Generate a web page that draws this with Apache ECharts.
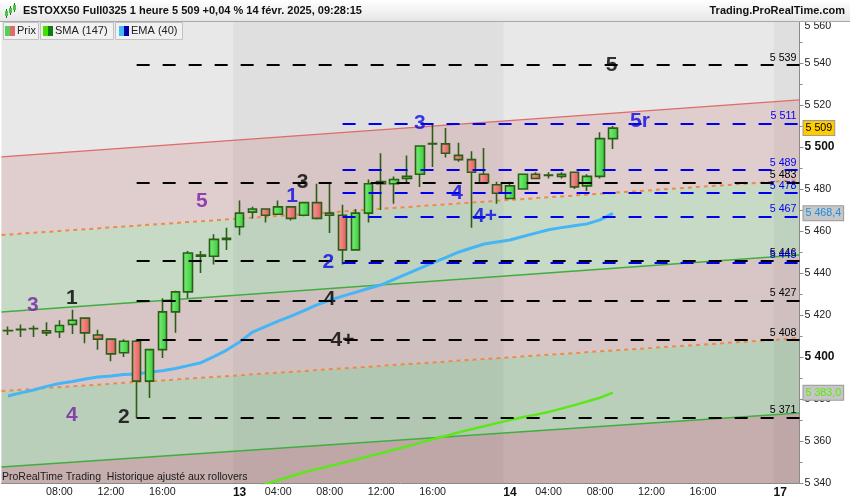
<!DOCTYPE html>
<html><head><meta charset="utf-8">
<script src="https://cdn.jsdelivr.net/npm/echarts@6/dist/echarts.min.js"></script>
<style>html,body{margin:0;padding:0;background:#fff}#c{width:850px;height:500px}</style>
</head><body><div id="c"></div>
<script>
// ---------- DATA ----------
const days = ['12', '13', '14', '17'];
const dayFirstHour = [4, 1, 1, 1];
const dayLastHour = [21, 21, 21, 2];

const opens  = [5412.5,5413,5413.5,5412.5,5412,5415.5,5418.5,5410.5,5408.5,5402,5407.5,5388.5,5403.5,5421.5,5431,5448.5,5448,5456,5462,5469,5470.5,5468,5471.5,5467.5,5473.5,5468.5,5467.5,5451,5468.5,5482.5,5482.5,5485,5487,5501.5,5501.5,5496,5494,5487,5482,5475.5,5480,5487,5486.5,5486,5488,5481.5,5486,5504];
const closes = [5412.6,5413.2,5413.6,5411.5,5415,5417.5,5411.5,5408.5,5401.5,5407.5,5388.5,5403.5,5421.5,5431,5449.5,5448,5456,5456.5,5468.5,5470.5,5467.5,5471.5,5466,5473.5,5466,5467.5,5451,5468.5,5482.5,5483.5,5484.5,5486,5500.5,5501.6,5497,5494,5488,5483,5478,5481.5,5487,5485,5486.6,5487,5481,5486,5504,5509];
const lows   = [5410.5,5409.5,5409.5,5410,5409,5411,5406.5,5403.5,5398,5400,5371,5380.5,5399.5,5411.5,5428,5440,5444,5451,5458,5466,5464,5468,5465,5467,5465.5,5459,5444,5451,5464,5470,5473,5482.5,5481,5490.5,5495,5493,5461.5,5483,5473,5475.5,5480,5485,5485,5485,5480,5479,5485,5499];
const highs  = [5414.5,5415.5,5415,5416.5,5417.5,5422.5,5418.5,5413,5408.5,5408.5,5408.5,5403.5,5428,5431.5,5450.5,5450.5,5458.5,5461.5,5474.5,5471.5,5470.5,5474.5,5471.5,5473.5,5482.5,5482.5,5472.5,5470.5,5484.5,5497,5486,5496,5500.5,5510.5,5509,5502,5498,5499.5,5483.5,5483.5,5487,5488,5488,5488,5488,5487,5507,5510];

const ema40 = [5381.4,5382.9,5384.3,5386.0,5387.4,5388.3,5389.5,5390.5,5391.0,5391.7,5391.9,5392.8,5393.5,5394.5,5395.9,5397.3,5400.2,5403.3,5407.1,5411.9,5414.5,5417.1,5419.5,5422.1,5424.8,5427.0,5429.0,5430.8,5432.6,5434.4,5437.0,5439.6,5442.2,5444.8,5447.3,5449.9,5451.9,5453.8,5454.8,5455.7,5457.4,5459.0,5460.6,5461.6,5462.5,5463.4,5465.3,5468.4];
const sma147 = [null,null,null,null,null,null,null,null,null,null,null,null,null,null,null,null,null,5333.4,5335.4,5337.3,5339.3,5341.3,5343.2,5345.1,5346.6,5348.1,5349.6,5351.1,5352.7,5354.2,5355.8,5357.4,5359.1,5360.8,5362.4,5364.1,5365.6,5367.0,5368.5,5370.0,5371.3,5372.5,5373.8,5375.4,5377.1,5378.8,5380.6,5383.0];

// regression channel lines: value at left edge and right edge of the chart
const chanLeft  = [5495.3, 5458.1, 5421.4, 5383.8, 5347.6];
const chanRight = [5522.4, 5484.3, 5448.6, 5409.0, 5373.3];

// horizontal levels
const blackLevels = [5539, 5483, 5446, 5427, 5408, 5371];
const blackStart = 10;
const blueLevels = [5511, 5489, 5478, 5467, 5445];
const blueStart = 26;

// wave count labels
const waveText  = ['5', '3', '2', '4', '4+', '2', '1', '3', '4', '5', '1', '3', '5r', '4', '4+'];
const waveX     = [46.9, 22.9, 24.9, 25.0, 26.0, 9.0, 4.97, 1.94, 4.97, 15.07, 22.07, 32.0, 49.1, 34.9, 37.06];
const waveY     = [5539, 5483, 5445.2, 5427.6, 5408.1, 5371.4, 5428.1, 5424.8, 5372.4, 5474.3, 5476.7, 5511.4, 5512.4, 5478.1, 5467.1];
const waveColor = ['k', 'k', 'b', 'k', 'k', 'k', 'k', 'p', 'p', 'p', 'b', 'b', 'b', 'b', 'b'];

const yTicksMin = 5340, yTicksMax = 5560, yTickStep = 20;

// ---------- BUILD ----------
const categories = [];
days.forEach((d, k) => { for (let h = dayFirstHour[k]; h <= dayLastHour[k]; h++) categories.push(d + '|' + h); });
const NC = categories.length;
const xL = -0.5, xR = NC - 0.5;
const candleData = opens.map((o, i) => [o, closes[i], lows[i], highs[i]]);

function fmt(v, dec) {
  const s = v.toFixed(dec || 0);
  const parts = s.split('.');
  const ip = parts[0].replace(/\B(?=(\d{3})+(?!\d))/g, ' ');
  return parts.length > 1 ? ip + ',' + parts[1] : ip;
}
const FONT = 'Liberation Sans, Arial, sans-serif';
const colMap = { k: '#000000', b: '#0a0ae6', p: '#7a1ea6' };

// dark day bands (value-axis coords)
const darkBands = [];
{
  let idx = 0;
  days.forEach((d, k) => {
    const n = dayLastHour[k] - dayFirstHour[k] + 1;
    if (k % 2 === 1) darkBands.push([idx - 0.5, idx + n - 0.5]);
    idx += n;
  });
}
const regionColors = ['#e0cdcd', '#c6dac6', '#d8c6c6', '#b9cfb9', '#c6aeae'];

const levelLines = [];
blackLevels.forEach(v => levelLines.push([
  { coord: [blackStart, v], lineStyle: { color: '#000', width: 2, type: [13, 13] }, label: { formatter: fmt(v), color: '#000' } },
  { coord: [xR, v] }]));
blueLevels.forEach(v => levelLines.push([
  { coord: [blueStart, v], lineStyle: { color: '#0000f0', width: 2, type: [13, 13] }, label: { formatter: fmt(v), color: '#0000f0' } },
  { coord: [xR, v] }]));

function priceTag(value, dec, textColor, bg) {
  return {
    silent: true, symbol: 'none', precision: dec,
    lineStyle: { width: 0, color: 'rgba(0,0,0,0)' },
    data: [{ yAxis: value }],
    label: { show: true, position: 'end', distance: 4, formatter: () => fmt(value, dec), color: textColor, opacity: 1,
      fontSize: 10.7, fontFamily: FONT, backgroundColor: bg, borderColor: '#9a9a9a', borderWidth: 1, padding: [2, 2, 1, 2] }
  };
}

const chart = echarts.init(document.getElementById('c'), null, { renderer: 'canvas' });

const chanSeries = chanLeft.map((v, k) => ({
  type: 'line', xAxisIndex: 1, yAxisIndex: 0, silent: true, symbol: 'none', z: 1,
  data: [[xL, v], [xR, chanRight[k]]],
  lineStyle: k === 0 ? { color: '#e06a6a', width: 1.2 }
    : (k % 2 === 1 ? { color: '#f08a4c', width: 2, type: [4, 4] } : { color: '#3fae3f', width: 1.5 })
}));

const option = {
  animation: false,
  backgroundColor: '#ffffff',
  textStyle: { fontFamily: FONT },
  grid: { left: 1.5, right: 50.5, top: 21, bottom: 17, show: true, backgroundColor: '#e8e8e8', borderWidth: 0 },
  xAxis: [{
    type: 'category', data: categories, boundaryGap: true,
    axisLine: { onZero: false, lineStyle: { color: '#8a8a8a' } },
    axisTick: { alignWithLabel: true, length: 3, lineStyle: { color: '#8a8a8a' },
      interval: (i, v) => (+v.split('|')[1]) % 4 === 0 },
    axisLabel: {
      fontSize: 10.7, color: '#222', margin: 4, fontFamily: FONT,
      interval: (i, v) => { const h = +v.split('|')[1]; return h === 1 || (h % 4 === 0 && h !== 20 && i !== 0); },
      formatter: v => { const p = v.split('|'); const h = +p[1]; return h === 1 ? '{b|' + p[0] + '}' : (h < 10 ? '0' + h : h) + ':00'; },
      rich: { b: { fontWeight: 'bold', fontSize: 12, fontFamily: FONT, color: '#111' } }
    },
    splitLine: { show: false }
  }, {
    type: 'value', min: xL, max: xR, show: false
  }],
  yAxis: [{
    type: 'value', position: 'right', min: yTicksMin, max: yTicksMax, interval: yTickStep, scale: true,
    axisLine: { show: true, onZero: false, lineStyle: { color: '#8a8a8a' } },
    axisTick: { show: true, length: 4, lineStyle: { color: '#8a8a8a' } },
    minorTick: { show: true, splitNumber: 2, length: 3, lineStyle: { color: '#8a8a8a' } },
    splitLine: { show: false },
    axisLabel: {
      fontSize: 10.7, color: '#222', margin: 5, fontFamily: FONT,
      verticalAlignMaxLabel: 'top',
      formatter: v => v % 100 === 0 ? '{b|' + fmt(v) + '}' : fmt(v),
      rich: { b: { fontWeight: 'bold', fontSize: 12, fontFamily: FONT, color: '#111' } }
    }
  }],
  graphic: [
    { type: 'rect', shape: { x: 0, y: 0, width: 850, height: 21 }, z: 100,
      style: { fill: new echarts.graphic.LinearGradient(0, 0, 0, 1, [{ offset: 0, color: '#ffffff' }, { offset: 1, color: '#e6e6e6' }]) } },
    { type: 'line', shape: { x1: 0, y1: 21.5, x2: 850, y2: 21.5 }, z: 100, style: { stroke: '#a8a8a8', lineWidth: 1 } },
    { type: 'line', shape: { x1: 6.5, y1: 9, x2: 6.5, y2: 18 }, z: 101, style: { stroke: '#2b5e16', lineWidth: 1 } },
    { type: 'rect', shape: { x: 5, y: 11, width: 3, height: 5 }, z: 102, style: { fill: '#49c449' } },
    { type: 'line', shape: { x1: 10.5, y1: 6, x2: 10.5, y2: 15 }, z: 101, style: { stroke: '#2b5e16', lineWidth: 1 } },
    { type: 'rect', shape: { x: 9, y: 8, width: 3, height: 5 }, z: 102, style: { fill: '#49c449' } },
    { type: 'line', shape: { x1: 14.5, y1: 3, x2: 14.5, y2: 12 }, z: 101, style: { stroke: '#2b5e16', lineWidth: 1 } },
    { type: 'rect', shape: { x: 13, y: 5, width: 3, height: 5 }, z: 102, style: { fill: '#49c449' } },
    { type: 'text', x: 23, y: 11, z: 101, style: { text: 'ESTOXX50 Full0325 1 heure 5 509 +0,04 % 14 févr. 2025, 09:28:15', font: 'bold 11px ' + FONT, fill: '#111', textVerticalAlign: 'middle' } },
    { type: 'text', x: 845, y: 11, z: 101, style: { text: 'Trading.ProRealTime.com', font: 'bold 11px ' + FONT, fill: '#111', textAlign: 'right', textVerticalAlign: 'middle' } },
    // legend tabs
    { type: 'rect', shape: { x: 3.5, y: 22.5, width: 35, height: 17 }, z: 100, style: { fill: '#f1f1f1', stroke: '#c2c2c2' } },
    { type: 'rect', shape: { x: 5, y: 26, width: 5, height: 10 }, z: 101, style: { fill: '#55d055' } },
    { type: 'rect', shape: { x: 10, y: 26, width: 5, height: 10 }, z: 101, style: { fill: '#e26a6a' } },
    { type: 'text', x: 17, y: 31, z: 101, style: { text: 'Prix', font: '11px ' + FONT, fill: '#222', textVerticalAlign: 'middle' } },
    { type: 'rect', shape: { x: 40.5, y: 22.5, width: 73, height: 17 }, z: 100, style: { fill: '#f1f1f1', stroke: '#c2c2c2' } },
    { type: 'rect', shape: { x: 43, y: 26, width: 5, height: 10 }, z: 101, style: { fill: '#44e000' } },
    { type: 'rect', shape: { x: 48, y: 26, width: 5, height: 10 }, z: 101, style: { fill: '#0f7d0f' } },
    { type: 'text', x: 55, y: 31, z: 101, style: { text: 'SMA (147)', font: '11px ' + FONT, fill: '#222', textVerticalAlign: 'middle' } },
    { type: 'rect', shape: { x: 115.5, y: 22.5, width: 67, height: 17 }, z: 100, style: { fill: '#f1f1f1', stroke: '#c2c2c2' } },
    { type: 'rect', shape: { x: 119, y: 26, width: 5, height: 10 }, z: 101, style: { fill: '#44b8f8' } },
    { type: 'rect', shape: { x: 124, y: 26, width: 5, height: 10 }, z: 101, style: { fill: '#0000a8' } },
    { type: 'text', x: 131, y: 31, z: 101, style: { text: 'EMA (40)', font: '11px ' + FONT, fill: '#222', textVerticalAlign: 'middle' } },
    { type: 'text', x: 2, y: 477, z: 100, style: { text: 'ProRealTime Trading  Historique ajusté aux rollovers', font: '10.5px ' + FONT, fill: '#1a1a1a', textVerticalAlign: 'middle' } }
  ],
  series: [
    {
      type: 'custom', xAxisIndex: 1, yAxisIndex: 0, silent: true, z: 0,
      data: [[0]],
      renderItem: (params, api) => {
        const children = [];
        const lines = chanLeft.map((v, k) => [api.coord([xL, v]), api.coord([xR, chanRight[k]])]);
        const bot = [api.coord([xL, yTicksMin]), api.coord([xR, yTicksMin])];
        for (let k = 0; k < lines.length; k++) {
          const t = lines[k], b = k < lines.length - 1 ? lines[k + 1] : bot;
          children.push({ type: 'polygon', shape: { points: [t[0], t[1], b[1], b[0]] }, style: { fill: regionColors[k] } });
        }
        darkBands.forEach(([a, b]) => {
          const p1 = api.coord([a, yTicksMax]), p2 = api.coord([b, yTicksMin]);
          children.push({ type: 'rect', shape: { x: p1[0], y: p1[1], width: p2[0] - p1[0], height: p2[1] - p1[1] }, style: { fill: 'rgba(0,0,0,0.035)' } });
        });
        return { type: 'group', children };
      }
    },
    ...chanSeries,
    {
      name: 'SMA (147)', type: 'line', xAxisIndex: 0, data: sma147, showSymbol: false, silent: true, z: 3,
      lineStyle: { color: '#5ee61c', width: 2.5 },
      markLine: priceTag(sma147[sma147.length - 1], 1, '#55ee00', '#c6c6c6')
    },
    {
      name: 'EMA (40)', type: 'line', xAxisIndex: 0, data: ema40, showSymbol: false, silent: true, z: 3,
      lineStyle: { color: '#45b5f5', width: 3 },
      markLine: priceTag(ema40[ema40.length - 1], 1, '#1e8ee0', '#c6c6c6')
    },
    {
      name: 'Prix', type: 'candlestick', xAxisIndex: 0, data: candleData, barWidth: 9, z: 4, silent: true,
      itemStyle: {
        color: new echarts.graphic.LinearGradient(0, 0, 1, 0, [{ offset: 0, color: '#80f080' }, { offset: 1, color: '#36c936' }]),
        color0: new echarts.graphic.LinearGradient(0, 0, 1, 0, [{ offset: 0, color: '#f89a9a' }, { offset: 1, color: '#e25a5a' }]),
        borderColor: '#2b5e16', borderColor0: '#2b5e16', borderWidth: 1.6
      },
      markLine: priceTag(closes[closes.length - 1], 0, '#000', '#ffcc00')
    },
    {
      type: 'scatter', xAxisIndex: 1, yAxisIndex: 0, silent: true, z: 6,
      symbolSize: 1, itemStyle: { color: 'rgba(0,0,0,0)' },
      data: waveText.map((t, i) => ({
        value: [waveX[i], waveY[i]],
        label: { show: true, position: 'inside', formatter: t, color: colMap[waveColor[i]], fontSize: 21, fontWeight: 'bold', fontFamily: FONT }
      })),
      markLine: {
        silent: true, symbol: 'none', z: 5,
        label: { show: true, position: 'insideEndTop', distance: [3, 2], fontSize: 10.7, fontFamily: FONT },
        data: levelLines
      }
    }
  ]
};
chart.setOption(option);
</script>
</body></html>
